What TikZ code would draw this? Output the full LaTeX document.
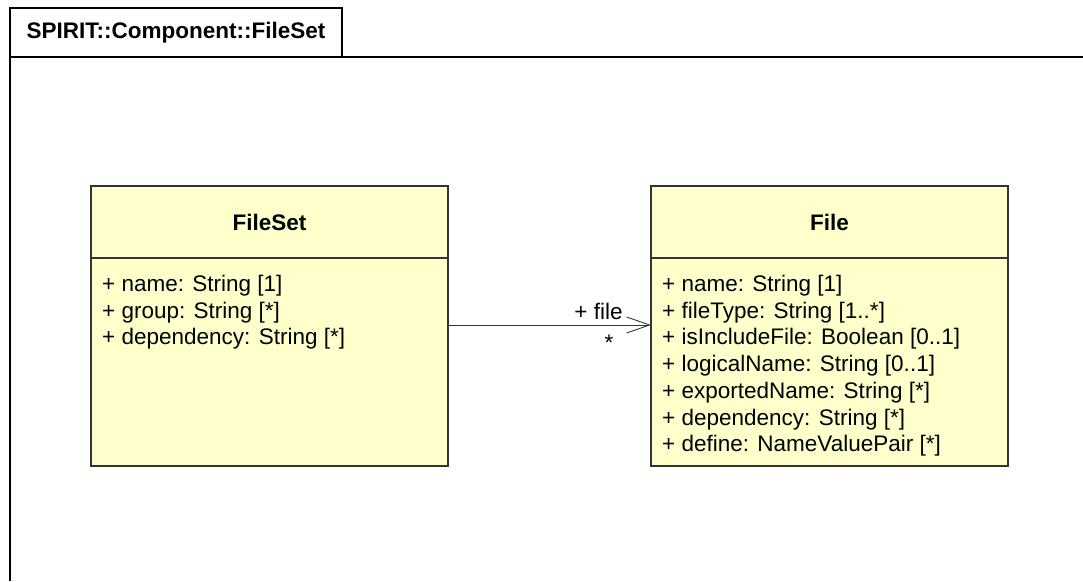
\documentclass[tikz,border=0pt]{standalone}
\usepackage{fontspec}
\setmainfont{Liberation Sans}
\usepackage{xcolor}
\usepackage{tikz}
\usetikzlibrary{arrows.meta, positioning}
\definecolor{classfill}{HTML}{FFFFCC}
\definecolor{classline}{HTML}{333333}
\tikzset{
  pkgtab/.style={rectangle, draw=black, line width=1.5pt, fill=white, font=\fontsize{22.5}{27}\selectfont\bfseries, minimum width=332pt, minimum height=49pt, inner sep=0pt, outer sep=0pt},
  frameline/.style={draw=black, line width=1.5pt},
  classhead/.style={rectangle, draw=classline, fill=classfill, line width=1.2pt, font=\fontsize{22.5}{27}\selectfont\bfseries, minimum width=357pt, minimum height=72pt, inner sep=0pt, outer sep=0pt},
  classbody/.style={rectangle, draw=classline, fill=classfill, line width=1.2pt, minimum width=357pt, minimum height=208pt, inner sep=0pt, outer sep=0pt},
  attrs/.style={align=left, inner sep=0pt, font=\fontsize{22.5}{26.7}\selectfont},
  assoc/.style={-{Straight Barb[length=23pt, width=16pt]}, line width=0.9pt, draw=black!80},
  role/.style={font=\fontsize{22.5}{27}\selectfont, text=black, inner sep=0pt},
}

\begin{document}
\begin{tikzpicture}[x=1pt, y=-1pt]
  \useasboundingbox (0,0) rectangle (1083,581);
  % package frame
  \node[pkgtab] (tab) at (176,32.5) {SPIRIT::Component::FileSet};
  \draw[frameline] (tab.south west) -- ++(1073,0);
  \draw[frameline] (tab.north west) -- ++(0,573);
  % classes
  \node[classhead] (filesethead) at (269.5,222) {FileSet};
  \node[classbody, below=0pt of filesethead] (filesetbody) {};
  \node[attrs, below right=17pt and 11pt of filesethead.south west] (filesetattrs) {+ name: String [1]\\+ group: String [*]\\+ dependency: String [*]};
  \node[classhead, right=203pt of filesethead] (filehead) {File};
  \node[classbody, below=0pt of filehead] (filebody) {};
  \node[attrs, below right=17pt and 11pt of filehead.south west] (fileattrs) {+ name: String [1]\\+ fileType: String [1..*]\\+ isIncludeFile: Boolean [0..1]\\+ logicalName: String [0..1]\\+ exportedName: String [*]\\+ dependency: String [*]\\+ define: NameValuePair [*]};
  % association
  \draw[assoc] ([yshift=37pt]filesetbody.east) -- ([yshift=37pt]filebody.west)
    node[role, pos=1, anchor=base east, xshift=-28pt, yshift=6pt] (filerole) {+ file}
    node[role, pos=1, anchor=base, xshift=-42pt, yshift=-25pt] (filemult) {*};
\end{tikzpicture}
\end{document}
